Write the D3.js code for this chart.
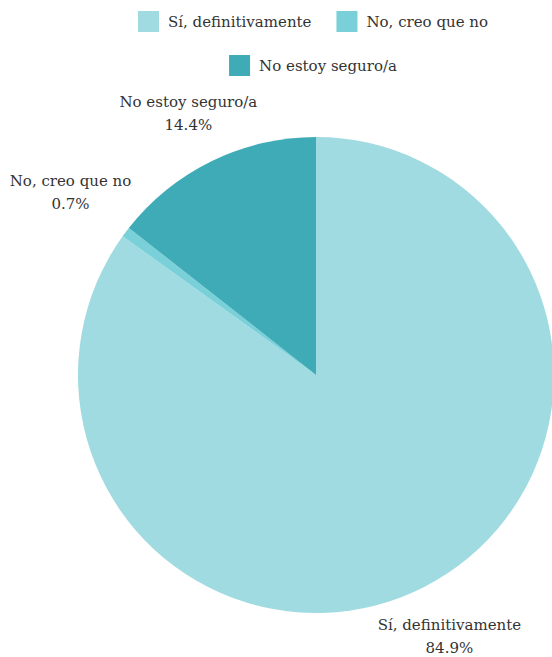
<!DOCTYPE html>
<html>
<head>
<meta charset="utf-8">
<script src="https://cdn.jsdelivr.net/npm/d3@7"></script>
<style>
  html, body { margin: 0; padding: 0; background: #fff; }
  #chart text { font-family: "DejaVu Serif", serif; }
</style>
</head>
<body>
<svg id="chart" width="552" height="657"></svg>
<script>
// Survey answers and their shares (%)
const categories = ["Sí, definitivamente", "No, creo que no", "No estoy seguro/a"];
const values = [84.9, 0.7, 14.4];
const colors = ["#a0dbe1", "#79d0d9", "#3eabb7"];

const svg = d3.select("#chart");
const cx = 316, cy = 375, radius = 238, labelRadius = 292;
const fontSize = 15, lineHeight = 23, textColor = "#333";

const color = d3.scaleOrdinal().domain(categories).range(colors);

const data = categories.map((c, i) => ({ name: c, value: values[i] }));
const pie = d3.pie().value(d => d.value).sort(null);
const arcs = pie(data);
const arc = d3.arc().innerRadius(0).outerRadius(radius);

const g = svg.append("g").attr("transform", `translate(${cx},${cy})`);
g.selectAll("path.slice")
  .data(arcs)
  .join("path")
  .attr("class", "slice")
  .attr("d", arc)
  .attr("fill", d => color(d.data.name));

// Slice labels: category name with the percentage below; narrow slices get pushed further out
const labelPos = d => {
  const r = labelRadius + (d.endAngle - d.startAngle < 0.1 ? 15 : 0);
  return d3.arc().innerRadius(r).outerRadius(r).centroid(d);
};
const labels = g.selectAll("text.label")
  .data(arcs)
  .join("text")
  .attr("class", "label")
  .attr("text-anchor", "middle")
  .attr("font-size", fontSize)
  .attr("fill", textColor)
  .attr("transform", d => {
    const [x, y] = labelPos(d);
    return `translate(${x},${y - 5})`;
  });
labels.append("tspan").attr("x", 0).attr("y", 0).text(d => d.data.name);
labels.append("tspan").attr("x", 0).attr("y", lineHeight).text(d => d3.format(".1f")(d.data.value) + "%");

// Legend: two items on the first row, one centred on the second
const legendRows = [[0, 1], [2]];
const sw = 21, gap = 9, itemGap = 25, rowY = [11, 55], legendCenter = cx - 3;
legendRows.forEach((row, ri) => {
  const items = row.map(i => {
    const t = svg.append("text").attr("font-size", fontSize).text(categories[i]);
    const w = t.node().getComputedTextLength();
    t.remove();
    return { i, w };
  });
  const total = d3.sum(items, d => sw + gap + d.w) + itemGap * (items.length - 1);
  let x = legendCenter - total / 2;
  items.forEach(it => {
    const lg = svg.append("g").attr("transform", `translate(${x},${rowY[ri]})`);
    lg.append("rect").attr("width", sw).attr("height", sw).attr("fill", color(categories[it.i]));
    lg.append("text").attr("x", sw + gap).attr("y", sw / 2 + 5)
      .attr("font-size", fontSize).attr("fill", textColor)
      .text(categories[it.i]);
    x += sw + gap + it.w + itemGap;
  });
});
</script>
</body>
</html>
